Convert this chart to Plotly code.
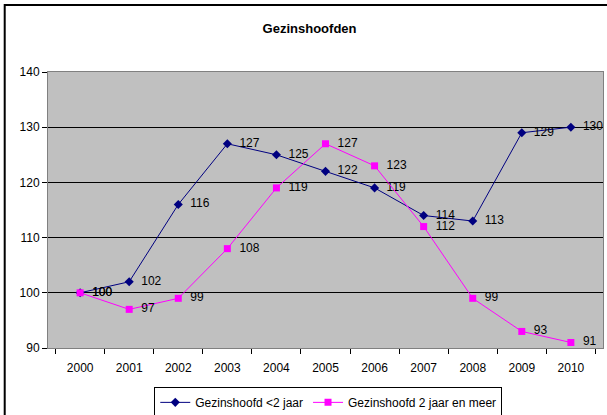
import plotly.graph_objects as go

# Jaartallen en indexcijfers (2000 = 100)
years = ["2000", "2001", "2002", "2003", "2004", "2005",
         "2006", "2007", "2008", "2009", "2010"]
kort = [100, 102, 116, 127, 125, 122, 119, 114, 113, 129, 130]
lang = [100, 97, 99, 108, 119, 127, 123, 112, 99, 93, 91]

font_family = "Liberation Sans, Arial, sans-serif"
pad = "\u00a0\u00a0"

fig = go.Figure()
fig.add_trace(go.Scatter(
    x=years, y=kort, name="Gezinshoofd <2 jaar",
    mode="lines+markers+text",
    line=dict(color="#000080", width=1),
    marker=dict(symbol="diamond", size=7, color="#000080"),
    text=[pad + str(v) for v in kort], textposition="middle right",
    textfont=dict(family=font_family, size=12, color="black"),
    cliponaxis=False,
))
fig.add_trace(go.Scatter(
    x=years, y=lang, name="Gezinshoofd 2 jaar en meer",
    mode="lines+markers+text",
    line=dict(color="#FF00FF", width=1),
    marker=dict(symbol="square", size=7, color="#FF00FF"),
    text=[pad + str(v) for v in lang], textposition="middle right",
    textfont=dict(family=font_family, size=12, color="black"),
    cliponaxis=False,
))

fig.update_layout(
    width=607, height=415,
    margin=dict(l=48, r=4, t=72, b=67, autoexpand=False),
    paper_bgcolor="white",
    plot_bgcolor="#C0C0C0",
    font=dict(family=font_family, size=12, color="black"),
    title=dict(text="<b>Gezinshoofden</b>", x=0.51, xanchor="center",
               y=0.932, yanchor="middle",
               font=dict(family=font_family, size=13, color="black")),
    showlegend=True,
    legend=dict(orientation="h", x=0.505, xanchor="center",
                y=-0.197, yanchor="middle",
                bordercolor="black", borderwidth=1, bgcolor="white",
                font=dict(family=font_family, size=12, color="black"),
                itemwidth=30, tracegroupgap=0),
    xaxis=dict(type="category", tickson="boundaries", ticks="outside",
               ticklen=5, tickcolor="black", showgrid=False,
               showline=True, linecolor="#808080", mirror=True,
               ticklabelstandoff=9, tickfont=dict(size=12)),
    yaxis=dict(range=[90, 140], dtick=10, ticks="outside", ticklen=5,
               tickcolor="black", showgrid=True, gridcolor="black",
               gridwidth=1, showline=True, linecolor="#808080",
               mirror=True, zeroline=False, tickfont=dict(size=12)),
    shapes=[dict(type="rect", xref="paper", yref="paper",
                 x0=-0.078, x1=1.04, y0=-0.30, y1=1.243,
                 line=dict(color="black", width=2), layer="below")],
)

fig.write_html("out.html")
